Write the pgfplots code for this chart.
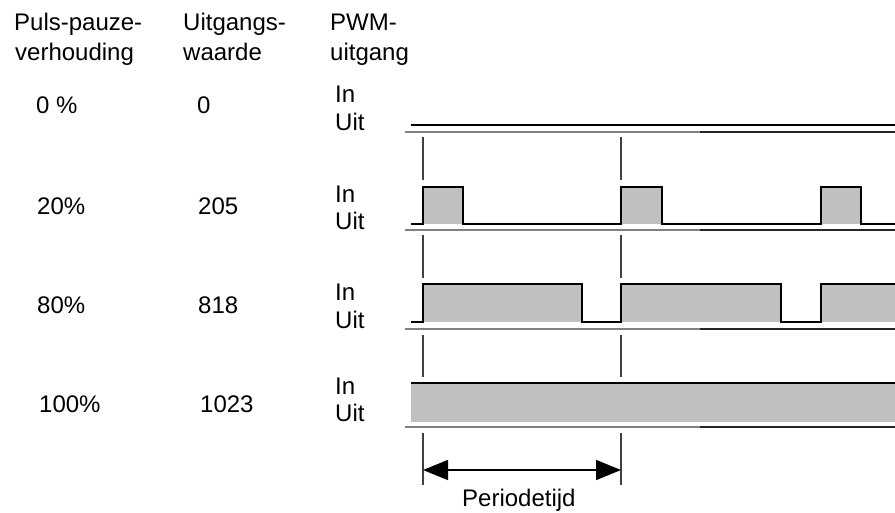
\documentclass[border=0pt]{standalone}
\usepackage{pgfplots}
\pgfplotsset{compat=1.18}
\usepackage{fontspec}
\setmainfont{Liberation Sans}
\usetikzlibrary{arrows.meta}
\definecolor{pwmfill}{HTML}{C0C0C0}
\definecolor{sepgray}{HTML}{808080}
\definecolor{tickgray}{HTML}{404040}
\newcommand{\fs}{\fontsize{24bp}{28bp}\selectfont}
\tikzset{lbl/.style={anchor=base west, font=\fs, inner sep=0pt}}
\begin{document}
\begin{tikzpicture}
\begin{axis}[hide axis, scale only axis, width=895bp, height=513bp,
  xmin=0, xmax=895, ymin=0, ymax=513, y dir=reverse, clip=false]
\coordinate (bl) at (axis cs:0,513);
\coordinate (tr) at (axis cs:895,0);
% header
\node[lbl] at (axis cs:14,31) {Puls-pauze-};
\node[lbl] at (axis cs:15,61) {verhouding};
\node[lbl] at (axis cs:183,31) {Uitgangs-};
\node[lbl] at (axis cs:183,61) {waarde};
\node[lbl] at (axis cs:330,31) {PWM-};
\node[lbl] at (axis cs:330,61) {uitgang};
% rows
\node[lbl] at (axis cs:36,114) {0 \%};
\node[lbl] at (axis cs:197,114) {0};
\node[lbl] at (axis cs:335,103) {In};
\node[lbl] at (axis cs:335,130) {Uit};
\node[lbl] at (axis cs:37,214) {20\%};
\node[lbl] at (axis cs:198,214) {205};
\node[lbl] at (axis cs:335,202) {In};
\node[lbl] at (axis cs:335,229) {Uit};
\node[lbl] at (axis cs:37,313) {80\%};
\node[lbl] at (axis cs:198,313) {818};
\node[lbl] at (axis cs:335,300) {In};
\node[lbl] at (axis cs:335,328) {Uit};
\node[lbl] at (axis cs:39,412) {100\%};
\node[lbl] at (axis cs:200,412) {1023};
\node[lbl] at (axis cs:335,394) {In};
\node[lbl] at (axis cs:335,421) {Uit};
\node[lbl] at (axis cs:462,506) {Periodetijd};
% fills
\addplot[fill=pwmfill, draw=none] coordinates {(423,224)(423,187)(463,187)(463,224)} -- cycle;
\addplot[fill=pwmfill, draw=none] coordinates {(621,224)(621,187)(662,187)(662,224)} -- cycle;
\addplot[fill=pwmfill, draw=none] coordinates {(821,224)(821,187)(861,187)(861,224)} -- cycle;
\addplot[fill=pwmfill, draw=none] coordinates {(423,322)(423,284)(582,284)(582,322)} -- cycle;
\addplot[fill=pwmfill, draw=none] coordinates {(621,322)(621,284)(781,284)(781,322)} -- cycle;
\addplot[fill=pwmfill, draw=none] coordinates {(821,322)(821,284)(895,284)(895,322)} -- cycle;
\addplot[fill=pwmfill, draw=none] coordinates {(411,422)(411,383)(895,383)(895,422)} -- cycle;
% separators
\foreach \yy in {132,230,329,427} {
  \edef\tmp{\noexpand\addplot[sepgray, line width=2.2bp] coordinates {(405,\yy)(700,\yy)};
  \noexpand\addplot[black!85, line width=1.4bp] coordinates {(700,\yy)(895,\yy)};}
  \tmp
}
% vertical ticks
\foreach \ya/\yb in {137/180,235/278,335/377,433/485} {
  \edef\tmp{\noexpand\addplot[tickgray, line width=1.2bp] coordinates {(423,\ya)(423,\yb)};
  \noexpand\addplot[tickgray, line width=1.2bp] coordinates {(621,\ya)(621,\yb)};}
  \tmp
}
% waveforms
\addplot[black, line width=2.8bp] coordinates {(411,125)(895,125)};
\addplot[black, line width=2.8bp, line join=miter] coordinates {(411,224)(423,224)(423,187)(463,187)(463,224)(621,224)(621,187)(662,187)(662,224)(821,224)(821,187)(861,187)(861,224)(895,224)};
\addplot[black, line width=2.8bp, line join=miter] coordinates {(411,322)(423,322)(423,284)(582,284)(582,322)(621,322)(621,284)(781,284)(781,322)(821,322)(821,284)(895,284)};
\addplot[black, line width=2.8bp] coordinates {(411,383)(895,383)};
% period arrow
\addplot[black, line width=1.6bp, {Triangle[length=25bp,width=20bp]}-{Triangle[length=25bp,width=20bp]}] coordinates {(423,470)(621,470)};
\end{axis}
\pgfresetboundingbox
\path[use as bounding box] (bl) rectangle (tr);
\end{tikzpicture}
\end{document}
